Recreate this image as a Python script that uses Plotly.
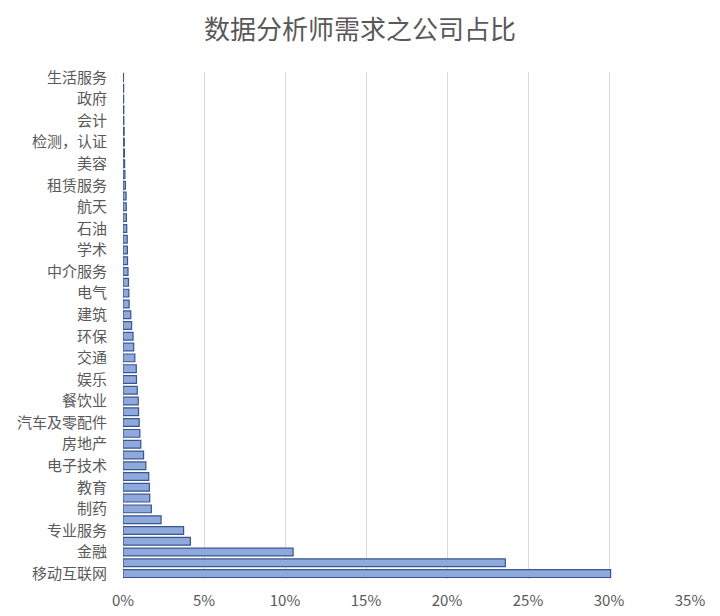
import plotly.graph_objects as go

# Categories from bottom (index 0) to top; only every other category is labelled in the source
labels = ["移动互联网", "金融", "专业服务", "制药", "教育", "电子技术", "房地产", "汽车及零配件",
          "餐饮业", "娱乐", "交通", "环保", "建筑", "电气", "中介服务", "学术", "石油", "航天",
          "租赁服务", "美容", "检测，认证", "会计", "政府", "生活服务"]

# share (%) for all 47 bars, bottom to top
values = [30.1, 23.6, 10.5, 4.16, 3.74, 2.35, 1.75, 1.65, 1.63, 1.59,
          1.41, 1.27, 1.10, 1.04, 1.00, 0.96, 0.94, 0.88, 0.83, 0.82,
          0.73, 0.66, 0.62, 0.53, 0.48, 0.38, 0.36, 0.34, 0.31, 0.28,
          0.27, 0.26, 0.23, 0.21, 0.20, 0.19, 0.15, 0.12, 0.10, 0.09,
          0.08, 0.07, 0.05, 0.05, 0.04, 0.04, 0.03]

x_ticks = [0, 5, 10, 15, 20, 25, 30, 35]
x_ticktext = ["0%", "5%", "10%", "15%", "20%", "25%", "30%", "35%"]

positions = list(range(len(values)))
label_positions = positions[::2]

fig = go.Figure(go.Bar(
    x=values,
    y=positions,
    orientation="h",
    marker=dict(color="#8EA9DB", line=dict(color="#3A558F", width=1.2)),
    width=0.72,
    hoverinfo="x",
))

fig.update_layout(
    width=720, height=616,
    margin=dict(l=115, r=38, t=64, b=45),
    paper_bgcolor="white", plot_bgcolor="white",
    title=dict(text="数据分析师需求之公司占比", x=0.489, xanchor="center", y=0.964, yanchor="middle",
               font=dict(family="Noto Sans CJK SC", size=26, color="#595959")),
    font=dict(family="Noto Sans CJK SC", color="#595959"),
    showlegend=False,
    bargap=0.28,
)

fig.update_xaxes(
    range=[0, 35], tickvals=x_ticks, ticktext=x_ticktext,
    showgrid=True, gridcolor="#D9D9D9", gridwidth=1,
    zeroline=True, zerolinecolor="#D9D9D9", zerolinewidth=1,
    tickfont=dict(size=15, color="#595959"), ticks="", ticklabelstandoff=11,
    automargin=False, fixedrange=True,
)
fig.update_yaxes(
    range=[-0.5, len(values) - 0.5], tickvals=label_positions, ticktext=labels,
    showgrid=False, zeroline=False, showline=False,
    tickfont=dict(size=15, color="#595959"), ticks="", ticklabelstandoff=15,
    automargin=False, fixedrange=True,
)

fig.write_html("out.html")
